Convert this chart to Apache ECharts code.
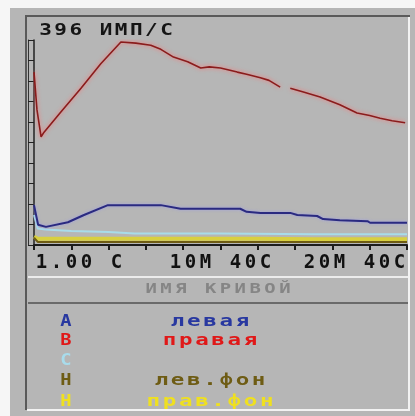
<!DOCTYPE html>
<html><head><meta charset="utf-8">
<script src="https://cdn.jsdelivr.net/npm/echarts@6/dist/echarts.min.js"></script>
<style>html,body{margin:0;padding:0;background:#f6f6f6}#c{width:415px;height:416px}</style>
</head><body><div id="c"></div>
<script>
// ---- data (x = frame number 0..100, y = counts/s) ----
const titleText = '396 ИМП/С';
const yMax = 396;
const xTickLabels = {0: '1.00 С', 50: '10М 40С', 100: '20М 40С'};
const curveNameCaption = 'ИМЯ КРИВОЙ';
const legendLetters = ['A', 'B', 'C', 'H', 'H'];
const legendNames = ['левая', 'правая', '', 'лев.фон', 'прав.фон'];

const rightKidney = [[0,334],[0.8,261],[1.9,209],[2.7,218],[7.2,257],[12.6,303],[17.9,350],[23.3,392],[27.3,390],[31.3,386],[34,378],[37.4,363],[41.2,354],[44.7,342],[47,344],[50,342],[54.5,334],[57,330],[60.7,323],[63,318],[66,305],[66.5,null],[68.7,303],[72,296],[76.7,286],[82,271],[86.6,255],[90,250],[92.8,245],[96,240],[99.5,236]];
const leftKidney = [[0,77],[1.1,39],[3.2,35],[9.1,44],[13.4,58],[19.8,77],[34,77],[39.3,70],[55.3,70],[57,64],[60.7,62],[68.7,62],[70.6,58],[75.9,56],[77.5,50],[82,48],[89.4,46],[90.1,43],[100,43]];
const curveC = [[0,58],[1,32],[3,30],[10,27],[20,25],[27,22],[50,22],[75,21],[100,21]];
const leftBg = [[0,14],[1,6],[30,6],[60,6],[100,6]];
const rightBg = [[0,16],[1,12],[30,12],[60,12],[75,11],[100,11]];

function cells(str, st){ return str.split('').map(c => '{' + st + '|' + (c === ' ' ? '\u00a0' : c) + '}').join(''); }
const mono = 'DejaVu Sans Mono';

const chart = echarts.init(document.getElementById('c'), null, {renderer: 'canvas'});
const legendColors = ['#2838a0', '#e01818', '#a8dcec', '#6e5c14', '#efe020'];
const legendGraphics = [];
const rowY = [322, 341, 361, 381, 402];
legendLetters.forEach((L, i) => {
  legendGraphics.push({type: 'text', x: 66, y: rowY[i], scaleX: 1.25, style: {text: L, align: 'center', verticalAlign: 'middle', font: 'bold 15px ' + mono, fill: legendColors[i]}});
  if (legendNames[i]) {
    legendGraphics.push({type: 'text', x: 210, y: rowY[i], scaleX: 1.5, style: {text: cells(legendNames[i], 'l'), align: 'center', verticalAlign: 'middle',
      rich: {l: {width: 10.8, align: 'center', font: 'bold 15px ' + mono, fill: legendColors[i]}}}});
  }
});

chart.setOption({
  animation: false,
  backgroundColor: '#f6f6f6',
  graphic: [
    {type: 'rect', shape: {x: 10, y: 8, width: 405, height: 408}, style: {fill: '#b6b6b6'}, z: -10},
    {type: 'polyline', shape: {points: [[26, 410], [26, 16], [410, 16]]}, style: {stroke: '#5a5a5a', lineWidth: 2, fill: null}, z: -9},
    {type: 'polyline', shape: {points: [[27, 410], [409, 410], [409, 17]]}, style: {stroke: '#f2f2f2', lineWidth: 2, fill: null}, z: -9},
    {type: 'line', shape: {x1: 28, y1: 277, x2: 408, y2: 277}, style: {stroke: '#ececec', lineWidth: 2}, z: -9},
    {type: 'line', shape: {x1: 28, y1: 303, x2: 408, y2: 303}, style: {stroke: '#6a6a6a', lineWidth: 2}, z: -9},
    {type: 'text', x: 38, y: 31, scaleX: 1.4, style: {text: cells(titleText, 't'), align: 'left', verticalAlign: 'middle', rich: {t: {width: 10.8, align: 'center', font: 'bold 15px ' + mono, fill: '#151515'}}}},
    {type: 'text', x: 218, y: 289, scaleX: 1.35, style: {text: cells(curveNameCaption, 'n'), align: 'center', verticalAlign: 'middle', rich: {n: {width: 11, align: 'center', font: 'bold 14px ' + mono, fill: '#858585'}}}},
    ...legendGraphics
  ],
  grid: {left: 34, right: 8, top: 40, bottom: 171, containLabel: false},
  xAxis: {
    type: 'value', min: 0, max: 100, interval: 10,
    axisLine: {lineStyle: {color: '#1c1c1c', width: 2}},
    axisTick: {show: true, length: 5, inside: false, lineStyle: {color: '#1c1c1c', width: 2}},
    splitLine: {show: false},
    axisLabel: {
      interval: 0, margin: 9, alignMinLabel: 'left', alignMaxLabel: 'right',
      formatter: v => xTickLabels[v] ? cells(xTickLabels[v], 'c') : '',
      rich: {c: {width: 15, align: 'center', fontSize: 19, fontWeight: 'bold', fontFamily: mono, color: '#111'}}
    }
  },
  yAxis: [{
    type: 'value', min: 0, max: yMax, interval: yMax / 10,
    axisLine: {show: true, lineStyle: {color: '#222', width: 1.5}},
    axisTick: {show: true, length: 6, lineStyle: {color: '#222'}},
    axisLabel: {show: false}, splitLine: {show: false}
  }, {
    type: 'value', min: 0, max: yMax, position: 'left', offset: 6,
    axisLine: {show: true, lineStyle: {color: '#333', width: 1}},
    axisTick: {show: false}, axisLabel: {show: false}, splitLine: {show: false}
  }],
  series: [
    {name: legendNames[4], type: 'line', data: rightBg, symbol: 'none', lineStyle: {color: '#d8d040', width: 4}},
    {name: legendNames[3], type: 'line', data: leftBg, symbol: 'none', lineStyle: {color: '#6e5c14', width: 2}},
    {name: 'C', type: 'line', data: curveC, symbol: 'none', lineStyle: {color: '#a8dcea', width: 2}},
    {name: legendNames[0], type: 'line', data: leftKidney, symbol: 'none', lineStyle: {color: '#2a2a80', width: 2, shadowColor: 'rgba(150,150,240,0.8)', shadowBlur: 3}},
    {name: legendNames[1], type: 'line', data: rightKidney, symbol: 'none', connectNulls: false, lineStyle: {color: '#8a1c1c', width: 1.6, shadowColor: 'rgba(255,110,110,1)', shadowBlur: 4}}
  ]
});
</script></body></html>
